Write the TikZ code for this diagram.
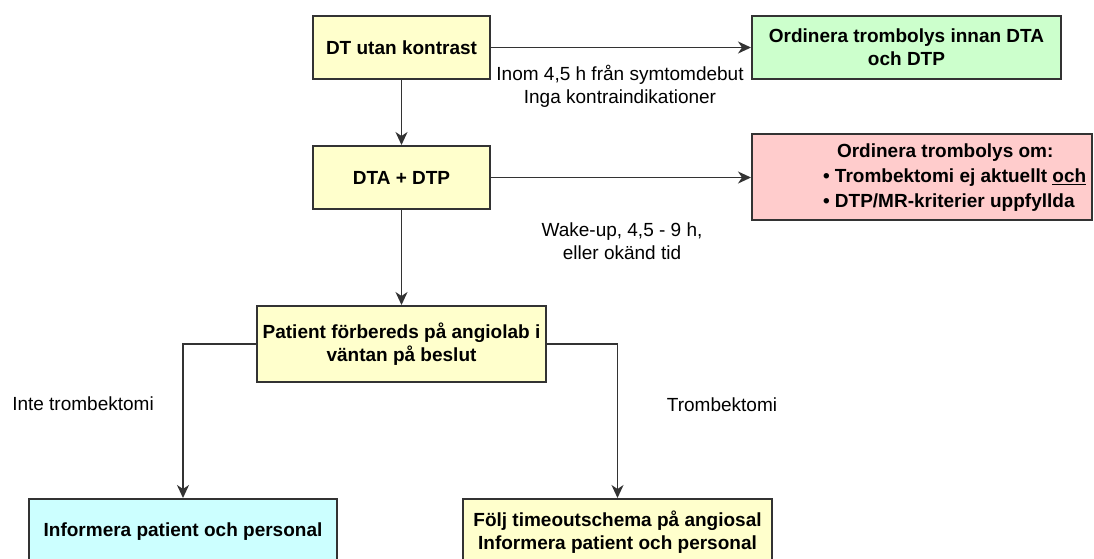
\documentclass[tikz,border=0pt]{standalone}
\usepackage{fontspec}
\setmainfont{Liberation Sans}
\usetikzlibrary{arrows.meta}
\definecolor{fyellow}{HTML}{FFFFCC}
\definecolor{fgreen}{HTML}{CCFFCC}
\definecolor{fred}{HTML}{FFCCCC}
\definecolor{fcyan}{HTML}{CCFFFF}
\definecolor{edge}{HTML}{333333}
\begin{document}
\begin{tikzpicture}[x=1pt,y=-1pt,
  box/.style={draw=edge, line width=2pt, inner sep=0pt, font=\bfseries\fontsize{19}{23}\selectfont, align=center},
  lbl/.style={font=\fontsize{19}{23}\selectfont, align=center, inner sep=0pt},
  conn/.style={draw=edge, line width=1.8pt, -{Stealth[length=13pt,width=12pt,inset=4pt]}}
]
\useasboundingbox (0,0) rectangle (1094,558);
\clip (0,0) rectangle (1094,558);

\node[box, fill=fyellow, minimum width=177pt, minimum height=63pt] (dt) at (401.5,47.5) {DT utan kontrast};
\node[box, fill=fgreen, minimum width=309pt, minimum height=63pt] (green) at (906.5,47.5) {Ordinera trombolys innan DTA\\och DTP};
\node[box, fill=fyellow, minimum width=177pt, minimum height=63pt] (dta) at (401.5,177.5) {DTA + DTP};
\node[box, fill=fred, minimum width=340pt, minimum height=86pt] (red) at (922,177) {};
\node[box, draw=none, align=left, anchor=west, font=\bfseries\fontsize{19}{25}\selectfont] (redtxt) at (822,178) {\hspace*{14pt}Ordinera trombolys om:\\\textbullet\ Trombektomi ej aktuellt \underline{och}\\\textbullet\ DTP/MR-kriterier uppfyllda};
\node[box, fill=fyellow, minimum width=289pt, minimum height=76pt] (prep) at (401.5,344) {Patient förbereds på angiolab i\\väntan på beslut};
\node[box, fill=fcyan, minimum width=308pt, minimum height=66pt] (info) at (183,532) {Informera patient och personal};
\node[box, fill=fyellow, minimum width=309pt, minimum height=66pt] (angio) at (617.5,532) {Följ timeoutschema på angiosal\\Informera patient och personal};

\draw[conn] (dt.east) -- (green.west);
\draw[conn] (dt.south) -- (dta.north);
\draw[conn] (dta.east) -- (dta.east -| red.west);
\draw[conn] (dta.south) -- (prep.north);
\draw[conn] (prep.west) -| (info.north);
\draw[conn] (prep.east) -| (angio.north);

\node[lbl] (l1) at (620,86) {Inom 4,5 h från symtomdebut\\Inga kontraindikationer};
\node[lbl] (l2) at (622,241) {Wake-up, 4,5 - 9 h,\\eller okänd tid};
\node[lbl] (l3) at (83,404) {Inte trombektomi};
\node[lbl] (l4) at (722,405) {Trombektomi};
\end{tikzpicture}
\end{document}
